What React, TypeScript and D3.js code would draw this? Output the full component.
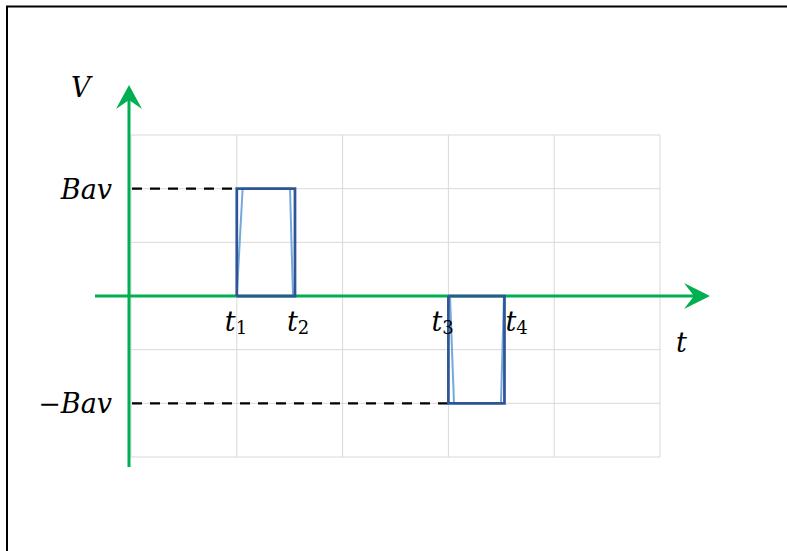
import React from "react";
import * as d3 from "d3";

// ---- data ----
const tGrid = [0, 1, 2, 3, 4, 5];
const vGrid = [-3, -2, -1, 0, 1, 2, 3];

// dark outline of each pulse
const pulseOutline1 = [
  { t: 1, v: 0 }, { t: 1, v: 2 }, { t: 1.55, v: 2 }, { t: 1.55, v: 0 }, { t: 1, v: 0 },
];
const pulseOutline2 = [
  { t: 3, v: 0 }, { t: 3, v: -2 }, { t: 3.53, v: -2 }, { t: 3.53, v: 0 }, { t: 3, v: 0 },
];
// light blue series (trapezoids)
const pulseLine1 = [
  { t: 1, v: 0 }, { t: 1.055, v: 2 }, { t: 1.503, v: 2 }, { t: 1.531, v: 0 },
];
const pulseLine2 = [
  { t: 3.015, v: 0 }, { t: 3.053, v: -2 }, { t: 3.497, v: -2 }, { t: 3.525, v: 0 },
];

// dashed guides: level and end time
const guides = [
  { v: 2, tEnd: 1 },
  { v: -2, tEnd: 3 },
];

// time labels
const tLabels = [
  { t: 1, sub: "1", dx: -12 },
  { t: 1.55, sub: "2", dx: -8 },
  { t: 3, sub: "3", dx: -17 },
  { t: 3.53, sub: "4", dx: 1 },
];

const vLabels = [
  { v: 2, text: "Bav" },
  { v: -2, text: "\u2212Bav" },
];

const W = 787;
const H = 551;

export default function App() {
  const x = d3.scaleLinear().domain([0, 5]).range([131, 660]);
  const y = d3.scaleLinear().domain([-3, 3]).range([457, 135]);
  const line = d3
    .line<{ t: number; v: number }>()
    .x((d) => x(d.t))
    .y((d) => y(d.v));

  const green = "#00B050";
  const axisX = x(0) - 2;
  const axisY = y(0);

  const hStart = 95;
  const hTip = 710;
  const vStart = 467;
  const vTip = 85;
  const aLen = 26;
  const aHalf = 13;
  const aNotch = 16;

  const fontMath = "'DejaVu Serif', serif";

  return (
    <div style={{ position: "fixed", left: 0, top: 0 }}>
      <svg width={W} height={H} style={{ display: "block", background: "#fff" }}>
        {/* frame */}
        <path d={`M7,${H} L7,6.5 L${W},6.5`} fill="none" stroke="#000" strokeWidth={2} />

        {/* grid */}
        <g stroke="#d9d9d9" strokeWidth={1}>
          {tGrid.map((t) => (
            <line key={"gx" + t} x1={x(t)} x2={x(t)} y1={y(3)} y2={y(-3)} />
          ))}
          {vGrid.map((v) => (
            <line key={"gy" + v} x1={x(0)} x2={x(5)} y1={y(v)} y2={y(v)} />
          ))}
        </g>

        {/* dashed guides */}
        {guides.map((g, i) => (
          <line
            key={"g" + i}
            x1={axisX + 3}
            x2={x(g.tEnd)}
            y1={y(g.v)}
            y2={y(g.v)}
            stroke="#000"
            strokeWidth={2.25}
            strokeDasharray="10 8"
          />
        ))}

        {/* axes */}
        <line x1={hStart} x2={hTip - aNotch + 2} y1={axisY} y2={axisY} stroke={green} strokeWidth={3} />
        <path
          d={`M${hTip},${axisY} L${hTip - aLen},${axisY - aHalf} L${hTip - aNotch},${axisY} L${hTip - aLen},${axisY + aHalf} Z`}
          fill={green}
        />
        <line x1={axisX} x2={axisX} y1={vStart} y2={vTip + aNotch - 2} stroke={green} strokeWidth={3} />
        <path
          d={`M${axisX},${vTip} L${axisX - aHalf},${vTip + aLen - 2} L${axisX},${vTip + aNotch - 1} L${axisX + aHalf},${vTip + aLen - 2} Z`}
          fill={green}
        />

        {/* pulses */}
        {[pulseLine1, pulseLine2].map((p, i) => (
          <path key={"pl" + i} d={line(p) || ""} fill="none" stroke="#5B9BD5" strokeWidth={2} strokeOpacity={0.85} />
        ))}
        {[pulseOutline1, pulseOutline2].map((p, i) => (
          <path key={"po" + i} d={line(p) || ""} fill="none" stroke="#2F5597" strokeWidth={2.75} strokeLinejoin="miter" />
        ))}

        {/* labels */}
        <text x={71} y={97} fontFamily={fontMath} fontStyle="italic" fontSize={27} fill="#000">
          V
        </text>
        {vLabels.map((l) => (
          <text
            key={l.text}
            x={axisX - 17}
            y={y(l.v) + 10}
            textAnchor="end"
            fontFamily={fontMath}
            fontStyle="italic"
            fontSize={27}
            fill="#000"
          >
            {l.text}
          </text>
        ))}
        {tLabels.map((l) => (
          <text key={l.sub} x={x(l.t) + l.dx} y={331} fontFamily={fontMath} fill="#000">
            <tspan fontStyle="italic" fontSize={27}>t</tspan>
            <tspan fontSize={18} dy={3}>{l.sub}</tspan>
          </text>
        ))}
        <text x={676} y={352} fontFamily={fontMath} fontStyle="italic" fontSize={27} fill="#000">
          t
        </text>
      </svg>
    </div>
  );
}
